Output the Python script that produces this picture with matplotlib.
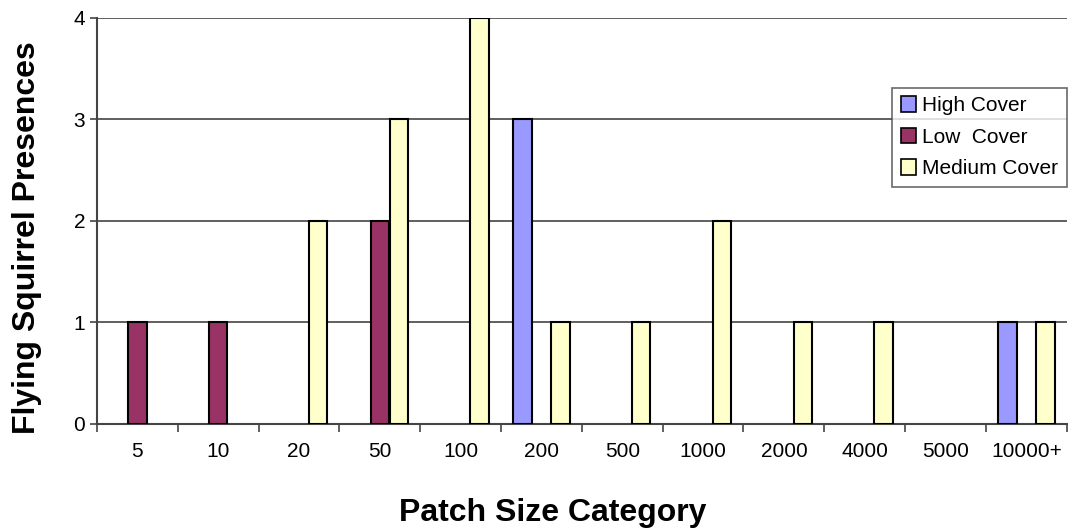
import numpy as np
import matplotlib.pyplot as plt

plt.rcParams['font.family'] = ['Liberation Sans', 'DejaVu Sans']

categories = ["5", "10", "20", "50", "100", "200", "500", "1000",
              "2000", "4000", "5000", "10000+"]
high_cover = [0, 0, 0, 0, 0, 3, 0, 0, 0, 0, 0, 1]
low_cover = [1, 1, 0, 2, 0, 0, 0, 0, 0, 0, 0, 0]
medium_cover = [0, 0, 2, 3, 4, 1, 1, 2, 1, 1, 0, 1]

fig = plt.figure(figsize=(10.68, 5.29), dpi=100)
ax = fig.add_axes([0.0908, 0.1985, 0.908, 0.768])

x = np.arange(len(categories))
w = 0.235
series = [
    (high_cover, "High Cover", "#9999FF", -w),
    (low_cover, "Low  Cover", "#993366", 0),
    (medium_cover, "Medium Cover", "#FFFFCC", w),
]
for vals, name, color, off in series:
    vals = np.array(vals, dtype=float)
    ax.bar(x + off, np.where(vals > 0, vals, np.nan), width=w * 0.97,
           color=color, edgecolor="black", linewidth=1.5, label=name, zorder=3)

ax.set_xlim(-0.5, len(categories) - 0.5)
ax.set_ylim(0, 4)
ax.set_yticks([0, 1, 2, 3, 4])
ax.yaxis.grid(True, color="#444444", linewidth=1.2, zorder=0)
ax.tick_params(axis="y", labelsize=15, length=5, width=1.2, color="#444444")

ax.set_xticks(np.arange(len(categories) + 1) - 0.5)
ax.set_xticklabels([])
ax.set_xticks(x, minor=True)
ax.set_xticklabels(categories, minor=True)
ax.tick_params(axis="x", which="major", length=6, width=1.2, color="#444444")
ax.tick_params(axis="x", which="minor", length=0, labelsize=15, pad=13)

for s in ["top", "right"]:
    ax.spines[s].set_visible(False)
for s in ["left", "bottom"]:
    ax.spines[s].set_color("#444444")
    ax.spines[s].set_linewidth(1.5)

ax.set_xlabel("Patch Size Category", fontsize=23, fontweight="bold")
ax.xaxis.set_label_coords(0.47, -0.182)
ax.set_ylabel("Flying Squirrel Presences", fontsize=23, fontweight="bold")
ax.yaxis.set_label_coords(-0.057, 0.458)

leg = ax.legend(loc="upper right", bbox_to_anchor=(1.0, 0.827), fontsize=15,
                frameon=True, fancybox=False, handlelength=0.75, handleheight=0.75,
                handletextpad=0.3, borderpad=0.4, labelspacing=0.6,
                borderaxespad=0)
leg.get_frame().set_edgecolor("#444444")
leg.get_frame().set_linewidth(1.2)
for h in leg.legend_handles:
    h.set_linewidth(1.2)

fig.savefig("out.png", dpi=100)
